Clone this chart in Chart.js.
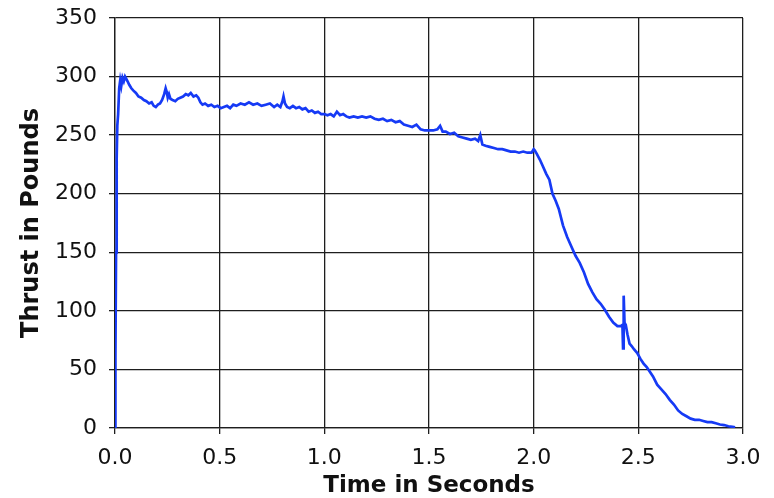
<!DOCTYPE html>
<html>
<head>
<meta charset="utf-8">
<script src="https://cdn.jsdelivr.net/npm/chart.js@4/dist/chart.umd.min.js"></script>
<style>
  html, body { margin: 0; padding: 0; background: #fff; }
  #wrap { width: 774px; height: 498px; }
</style>
</head>
<body>
<div id="wrap"><canvas id="c"></canvas></div>
<script>
// Motor thrust curve.
const timeSec = [
  0, 0.002, 0.005, 0.008, 0.011, 0.015, 0.02, 0.025, 0.03, 0.036,
  0.042, 0.048, 0.054, 0.06, 0.068, 0.078, 0.088, 0.1, 0.112, 0.125,
  0.138, 0.15, 0.163, 0.175, 0.185, 0.195, 0.205, 0.215, 0.225, 0.235,
  0.242, 0.247, 0.252, 0.258, 0.265, 0.275, 0.288, 0.3, 0.312, 0.325,
  0.338, 0.35, 0.362, 0.375, 0.388, 0.398, 0.408, 0.418, 0.43, 0.445,
  0.46, 0.475, 0.49, 0.505, 0.52, 0.535, 0.55, 0.565, 0.58, 0.6,
  0.62, 0.64, 0.66, 0.68, 0.7, 0.72, 0.74, 0.76, 0.775, 0.79,
  0.8, 0.805, 0.812, 0.822, 0.835, 0.85, 0.865, 0.88, 0.895, 0.91,
  0.925, 0.94, 0.955, 0.97, 0.985, 1.0, 1.015, 1.03, 1.045, 1.06,
  1.075, 1.09, 1.105, 1.12, 1.14, 1.16, 1.18, 1.2, 1.22, 1.24,
  1.26, 1.28, 1.3, 1.32, 1.34, 1.36, 1.38, 1.4, 1.42, 1.44,
  1.46, 1.48, 1.5, 1.52, 1.54, 1.553, 1.565, 1.58, 1.6, 1.62,
  1.64, 1.66, 1.68, 1.7, 1.72, 1.735, 1.745, 1.755, 1.77, 1.79,
  1.81, 1.83, 1.85, 1.87, 1.89, 1.91, 1.93, 1.95, 1.97, 1.99,
  2.0, 2.005, 2.015, 2.03, 2.045, 2.06, 2.075, 2.09, 2.105, 2.12,
  2.14, 2.16, 2.18, 2.2, 2.22, 2.24, 2.26, 2.28, 2.3, 2.32,
  2.34, 2.36, 2.38, 2.4, 2.415, 2.424, 2.427, 2.43, 2.434, 2.44,
  2.448, 2.458, 2.468, 2.48, 2.495, 2.51, 2.525, 2.54, 2.555, 2.57,
  2.59, 2.61, 2.63, 2.65, 2.67, 2.69, 2.71, 2.73, 2.75, 2.77,
  2.79, 2.81, 2.83, 2.85, 2.87, 2.89, 2.91, 2.93, 2.95, 2.962
];
const thrustLb = [
  0, 60, 150, 230, 258, 268, 290, 297, 292, 299,
  296, 300, 298, 296, 293, 290, 288, 286, 283, 282,
  280, 279, 277, 278, 275, 274, 276, 277, 280, 285,
  290, 287, 282, 285, 281, 280, 279, 281, 282, 283,
  285, 284, 286, 283, 284, 282, 278, 276, 277, 275,
  276, 274, 275, 273, 274, 275, 273, 276, 275, 277,
  276, 278, 276, 277, 275, 276, 277, 274, 276, 274,
  279, 283, 277, 274, 273, 275, 273, 274, 272, 273,
  270, 271, 269, 270, 268, 268, 267, 268, 266, 270,
  267, 268, 266, 265, 266, 265, 266, 265, 266, 264,
  263, 264, 262, 263, 261, 262, 259, 258, 257, 259,
  255, 254, 254, 254, 255, 258, 253, 253, 251, 252,
  249, 248, 247, 246, 247, 245, 250, 242, 241, 240,
  239, 238, 238, 237, 236, 236, 235, 236, 235, 235,
  238, 237, 234, 229, 223, 217, 212, 200, 194, 187,
  173, 163, 155, 147, 141, 133, 123, 116, 110, 106,
  101, 95, 90, 87, 87, 88, 68, 113, 90, 88,
  80, 72, 70, 67, 64, 59, 55, 52, 48, 44,
  37, 33, 29, 24, 20, 15, 12, 10, 8, 7,
  7, 6, 5, 5, 4, 3, 2.5, 1.5, 1, 0.5
];
const xLabels = [0, 0.5, 1.0, 1.5, 2.0, 2.5, 3.0];
const yLabels = [0, 50, 100, 150, 200, 250, 300, 350];

const gridColor = '#1e1e1e';
const tickFont = { family: 'DejaVu Sans', size: 22 };
const titleFont = { family: 'DejaVu Sans', size: 23, weight: 'bold', lineHeight: 1 };

new Chart(document.getElementById('c'), {
  type: 'line',
  data: {
    datasets: [{
      data: timeSec.map((t, i) => ({ x: t, y: thrustLb[i] })),
      borderColor: 'rgb(22, 58, 245)',
      borderWidth: 2.7,
      pointRadius: 0,
      tension: 0,
      fill: false,
    }],
  },
  options: {
    responsive: true,
    maintainAspectRatio: false,
    animation: false,
    layout: { padding: { top: 18, right: 31, left: 0, bottom: 0 } },
    plugins: { legend: { display: false }, tooltip: { enabled: false } },
    scales: {
      x: {
        type: 'linear',
        min: 0, max: 3,
        afterFit: s => { s.height = 70; s.paddingLeft = 0; s.paddingRight = 0; },
        grid: { color: gridColor, lineWidth: 1.3, tickLength: 6 },
        border: { color: gridColor, width: 1.3 },
        ticks: {
          stepSize: 0.25,
          color: '#111',
          font: tickFont,
          padding: 11,
          maxRotation: 0,
          autoSkip: false,
          callback: v => xLabels.some(l => Math.abs(l - v) < 1e-6) ? v.toFixed(1) : null,
        },
        title: { display: true, text: 'Time in Seconds', color: '#111', font: titleFont, padding: { top: 0, bottom: 0 } },
      },
      y: {
        min: 0, max: 350,
        afterFit: s => { s.width = 115; s.paddingTop = 0; s.paddingBottom = 0; },
        grid: { color: gridColor, lineWidth: 1.3, tickLength: 6 },
        border: { color: gridColor, width: 1.3 },
        ticks: {
          stepSize: 50,
          color: '#111',
          font: tickFont,
          padding: 12,
          callback: v => yLabels.includes(v) ? String(v) : null,
        },
        title: { display: true, text: 'Thrust in Pounds', color: '#111', font: { ...titleFont, size: 24 }, padding: { top: 20, bottom: 0 } },
      },
    },
  },
});
</script>
</body>
</html>
